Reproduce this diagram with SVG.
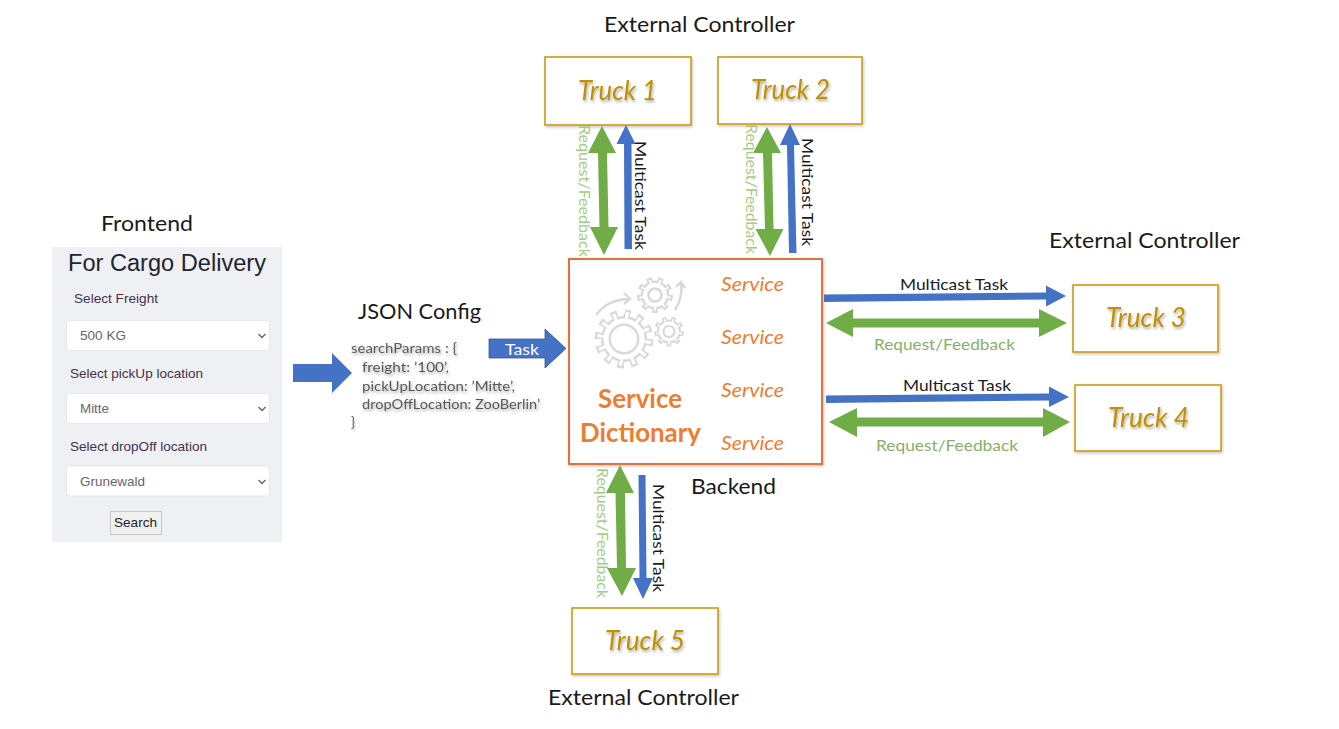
<svg xmlns="http://www.w3.org/2000/svg" xmlns:xlink="http://www.w3.org/1999/xlink" width="1339" height="729" viewBox="0 0 1339 729">
<style>
text{font-family:Lato,"Open Sans",sans-serif}
.h{font-size:21px;fill:#1a1a1a}
.truckbox{fill:#fff;stroke:#cf9f1f;stroke-width:1.700;filter:url(#soft)}
.truck{font-size:27px;font-style:italic;fill:#bf9000;filter:url(#tshadow)}
.svc{font-size:20px;font-style:italic;fill:#ed7d31}
.dict{font-size:26px;font-weight:700;fill:#ed7d31}
.mt{font-size:16px;fill:#1a1a1a}
.rf{font-size:16px;fill:#86b066}
.rfv{font-size:15px;fill:#a3cc80}
.blue{fill:#4472c4}
.green{fill:#70ad47}
.code{font-size:13px;fill:#595959;filter:url(#tshadow)}
.ui{font-family:"Liberation Sans",Arial,sans-serif}
.lbl{font-size:13px;fill:#43304f}
.sel{fill:#fff;stroke:#e6e7ea;stroke-width:1}
.val{font-size:13px;fill:#666}
.chev{fill:none;stroke:#666;stroke-width:1.4}
.g{stroke:#d9d9d9;fill:none}
</style>
<defs>
<filter id="soft" x="-10%" y="-10%" width="125%" height="125%"><feDropShadow dx="1" dy="1.5" stdDeviation="1.5" flood-color="#000" flood-opacity=".22"/></filter>
<filter id="tshadow" x="-10%" y="-20%" width="125%" height="160%"><feDropShadow dx="1" dy="2" stdDeviation="1.5" flood-color="#000" flood-opacity=".35"/></filter>
<g id="gear">
<circle r="25" fill="none" stroke="#d9d9d9" stroke-width="10" pathLength="24" stroke-dasharray="1 1"/>
<circle r="23.500" fill="#d9d9d9"/>
<circle r="23.500" fill="none" stroke="#fff" stroke-width="8" pathLength="24" stroke-dasharray=".5 1.5" stroke-dashoffset="-.25"/>
<circle r="21" fill="#fff"/>
<circle r="14.500" fill="none" stroke="#d9d9d9" stroke-width="2.400"/>
</g>
<g id="gear-small">
<circle r="25" fill="none" stroke="#d9d9d9" stroke-width="10" pathLength="18" stroke-dasharray="1 1"/>
<circle r="24" fill="#d9d9d9"/>
<circle r="22.500" fill="none" stroke="#fff" stroke-width="7" pathLength="18" stroke-dasharray=".4 1.6" stroke-dashoffset="-.3"/>
<circle r="20" fill="#fff"/>
<circle r="11" fill="none" stroke="#d9d9d9" stroke-width="4.200"/>
</g>
</defs>
<rect width="1339" height="729" fill="#fff"/>

<g id="frontend">
<text class="h" x="101" y="231" textLength="92" lengthAdjust="spacingAndGlyphs">Frontend</text>
<rect x="52" y="247" width="230" height="295" fill="#eff0f3"/>
<text class="ui" x="68" y="271" font-size="23.500" fill="#1f2430" textLength="198" lengthAdjust="spacingAndGlyphs">For Cargo Delivery</text>
<text class="ui lbl" x="74" y="303" textLength="84" lengthAdjust="spacingAndGlyphs">Select Freight</text>
<rect class="sel" x="66.500" y="320.500" width="203" height="30" rx="3"/>
<text class="ui val" x="80" y="340" textLength="46" lengthAdjust="spacingAndGlyphs">500 KG</text>
<path class="chev" d="M258.500 334l3.500 3.500 3.500-3.500"/>
<text class="ui lbl" x="70" y="378" textLength="133" lengthAdjust="spacingAndGlyphs">Select pickUp location</text>
<rect class="sel" x="66.500" y="393.500" width="203" height="30" rx="3"/>
<text class="ui val" x="80" y="413" textLength="29" lengthAdjust="spacingAndGlyphs">Mitte</text>
<path class="chev" d="M258.500 407l3.500 3.500 3.500-3.500"/>
<text class="ui lbl" x="70" y="451" textLength="137" lengthAdjust="spacingAndGlyphs">Select dropOff location</text>
<rect class="sel" x="66.500" y="466" width="203" height="30" rx="3"/>
<text class="ui val" x="80" y="486" textLength="65" lengthAdjust="spacingAndGlyphs">Grunewald</text>
<path class="chev" d="M258.500 480l3.500 3.500 3.500-3.500"/>
<rect x="110.500" y="511.500" width="51" height="23" fill="#f0f0f0" stroke="#c9c9c9"/>
<text class="ui" x="114" y="527" font-size="13" fill="#222" textLength="43" lengthAdjust="spacingAndGlyphs">Search</text>
</g>

<g id="json-config">
<text class="h" x="358" y="319" textLength="123" lengthAdjust="spacingAndGlyphs">JSON Config</text>
<text class="code" x="351" y="353" textLength="106" lengthAdjust="spacingAndGlyphs">searchParams : {</text>
<text class="code" x="362" y="372" textLength="87" lengthAdjust="spacingAndGlyphs">freight: ’100’,</text>
<text class="code" x="362" y="391" textLength="153" lengthAdjust="spacingAndGlyphs">pickUpLocation: ’Mitte’,</text>
<text class="code" x="362" y="409" textLength="178" lengthAdjust="spacingAndGlyphs">dropOffLocation: ZooBerlin’</text>
<text class="code" x="351" y="427">}</text>
</g>

<g id="backend">
<rect x="569" y="259" width="253" height="205" fill="#fff" stroke="#e0723a" stroke-width="2" filter="url(#soft)"/>
<use xlink:href="#gear" href="#gear" transform="translate(624 339) scale(.98)"/>
<use xlink:href="#gear-small" href="#gear-small" transform="translate(655 295) scale(.6)"/>
<use xlink:href="#gear-small" href="#gear-small" transform="translate(669 331.500) scale(.5)"/>
<path class="g" stroke-width="2.400" d="M596 315Q608 299 630 299M624 293l6 6-6 5"/>
<path class="g" stroke-width="2.400" d="M675 310Q683 298 681 282M676 287l5-5 4 6"/>
<text class="dict" x="598" y="408" textLength="84" lengthAdjust="spacingAndGlyphs">Service</text>
<text class="dict" x="580" y="442" textLength="121" lengthAdjust="spacingAndGlyphs">Dictionary</text>
<text class="svc" x="721" y="291" textLength="63" lengthAdjust="spacingAndGlyphs">Service</text>
<text class="svc" x="721" y="344" textLength="63" lengthAdjust="spacingAndGlyphs">Service</text>
<text class="svc" x="721" y="397" textLength="63" lengthAdjust="spacingAndGlyphs">Service</text>
<text class="svc" x="721" y="450" textLength="63" lengthAdjust="spacingAndGlyphs">Service</text>
<text class="h" x="691" y="494" textLength="85" lengthAdjust="spacingAndGlyphs">Backend</text>
</g>

<g id="truck1">
<text class="h" x="604" y="32" textLength="191" lengthAdjust="spacingAndGlyphs">External Controller</text>
<rect class="truckbox" x="545" y="57" width="146" height="68"/>
<text class="truck" x="578" y="100" textLength="79" lengthAdjust="spacingAndGlyphs">Truck 1</text>
</g>
<g id="truck2">
<rect class="truckbox" x="718" y="57" width="144" height="67"/>
<text class="truck" x="751" y="99" textLength="79" lengthAdjust="spacingAndGlyphs">Truck 2</text>
</g>
<g id="truck3">
<text class="h" x="1049" y="248" textLength="191" lengthAdjust="spacingAndGlyphs">External Controller</text>
<rect class="truckbox" x="1073" y="285" width="145" height="67"/>
<text class="truck" x="1106" y="327" textLength="80" lengthAdjust="spacingAndGlyphs">Truck 3</text>
</g>
<g id="truck4">
<rect class="truckbox" x="1075" y="385" width="146" height="66"/>
<text class="truck" x="1108" y="427" textLength="81" lengthAdjust="spacingAndGlyphs">Truck 4</text>
</g>
<g id="truck5">
<rect class="truckbox" x="572" y="608" width="146" height="66"/>
<text class="truck" x="605" y="650" textLength="80" lengthAdjust="spacingAndGlyphs">Truck 5</text>
<text class="h" x="548" y="705" textLength="191" lengthAdjust="spacingAndGlyphs">External Controller</text>
</g>

<g id="connectors">
<path class="blue" d="M293 364H332V353L352 373 332 393V382H293Z"/>
<path class="blue" d="M489 339H545V329L566 348.500 545 368V358H489Z" stroke="#35589a" stroke-width=".8"/>
<text x="505" y="355" font-size="15" fill="#fff" textLength="34" lengthAdjust="spacingAndGlyphs">Task</text>

<path class="green" d="M602 126L616 153H607L608.500 227H618L604 255 590 227H599.500L598 153H588Z"/>
<path class="blue" d="M626 125L635.500 144H631.500L632 249H624.500L624 144H616.500Z"/>
<path class="green" d="M767 127L781 153H772L773.500 229H783.500L770 256 755.500 229H765L763 153H753Z"/>
<path class="blue" d="M790 124L800 145H794L796.500 253H789L787 145H780Z"/>
<path class="blue" d="M824 294.500L1046 292.500V285.500L1066 296 1046 306.500V299.500L824 302Z"/>
<path class="green" d="M826 323L853 309V318.500H1039V309L1067 323 1039 337V327.500H853V337Z"/>
<path class="blue" d="M826 395.500L1049 393.500V386.500L1069 397 1049 407V400.500L826 403Z"/>
<path class="green" d="M829 422L857 408V417.500H1043V408L1070 422 1043 437V426.500H857V437Z"/>
<path class="green" d="M620 465L634 493H625L626 568H636L622 596 607 568H617L615.500 493H606Z"/>
<path class="blue" d="M638.500 475H645.500L646.500 578H653L643 599 633 578H639.500Z"/>

<text class="mt" x="900" y="290" textLength="108" lengthAdjust="spacingAndGlyphs">Multicast Task</text>
<text class="mt" x="903" y="391" textLength="108" lengthAdjust="spacingAndGlyphs">Multicast Task</text>
<text class="rf" x="874" y="350" textLength="141" lengthAdjust="spacingAndGlyphs">Request/Feedback</text>
<text class="rf" x="876" y="451" textLength="142" lengthAdjust="spacingAndGlyphs">Request/Feedback</text>
<text class="rfv" transform="translate(578.500 125) rotate(90)" textLength="132" lengthAdjust="spacingAndGlyphs">Request/Feedback</text>
<text class="mt" transform="translate(635 141) rotate(90)" textLength="109" lengthAdjust="spacingAndGlyphs">Multicast Task</text>
<text class="rfv" transform="translate(746 124) rotate(90)" textLength="130" lengthAdjust="spacingAndGlyphs">Request/Feedback</text>
<text class="mt" transform="translate(802 138) rotate(90)" textLength="108" lengthAdjust="spacingAndGlyphs">Multicast Task</text>
<text class="rfv" transform="translate(596.500 468) rotate(90)" textLength="130" lengthAdjust="spacingAndGlyphs">Request/Feedback</text>
<text class="mt" transform="translate(652.500 484) rotate(90)" textLength="108" lengthAdjust="spacingAndGlyphs">Multicast Task</text>
</g>
</svg>
